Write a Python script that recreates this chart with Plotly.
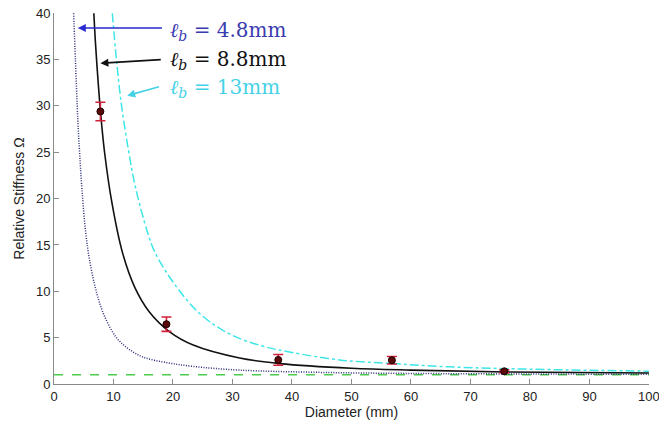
import plotly.graph_objects as go

# Model curves (diameter mm, relative stiffness)
d_48 = [3.3, 3.6, 4.0, 4.3, 4.7, 5.3, 6.0, 7.1, 8.5, 10.5, 12.5, 15.0, 19.0, 23.4, 31.2, 45.0, 60.0, 80.0, 100.0]
o_48 = [40.0, 35.0, 28.5, 25.0, 21.0, 16.5, 13.3, 10.0, 7.3, 5.0, 3.8, 2.9, 2.3, 1.9, 1.5, 1.25, 1.14, 1.08, 1.05]

d_88 = [6.7, 7.0, 7.8, 8.5, 9.75, 11.5, 13.6, 16.0, 19.5, 23.4, 31.2, 38.0, 50.0, 60.0, 76.0, 100.0]
o_88 = [40.0, 36.5, 29.5, 25.0, 19.5, 14.2, 10.4, 7.8, 5.6, 4.2, 2.8, 2.2, 1.7, 1.5, 1.3, 1.18]

d_13 = [9.8, 10.5, 11.3, 12.5, 13.7, 15.8, 16.9, 20.0, 24.5, 29.5, 35.0, 40.0, 48.0, 57.0, 66.5, 80.0, 100.0]
o_13 = [40.0, 35.0, 30.3, 25.3, 21.2, 16.2, 14.3, 11.0, 7.6, 5.4, 4.1, 3.4, 2.6, 2.2, 1.85, 1.6, 1.38]

# Reference (rigid) level
ref_x = [0, 100]
ref_y = [1.0, 1.0]

# Measurements
meas_d = [7.8, 18.9, 37.7, 56.8, 75.7]
meas_o = [29.4, 6.45, 2.6, 2.56, 1.37]
meas_err = [1.0, 0.77, 0.58, 0.4, 0.15]

labels = ["4.8mm", "8.8mm", "13mm"]

fig = go.Figure()
fig.add_trace(go.Scatter(x=ref_x, y=ref_y, mode="lines",
                         line=dict(color="#4ccc4c", width=1.5, dash="dash"),
                         hoverinfo="skip"))
fig.add_trace(go.Scatter(x=d_48, y=o_48, mode="lines", line_shape="spline",
                         line=dict(color="#2a2a78", width=1.5, dash="1px,1.5px")))
fig.add_trace(go.Scatter(x=d_13, y=o_13, mode="lines", line_shape="spline",
                         line=dict(color="#3ee6e6", width=1.5, dash="dashdot")))
fig.add_trace(go.Scatter(x=d_88, y=o_88, mode="lines", line_shape="spline",
                         line=dict(color="#111111", width=1.6)))
fig.add_trace(go.Scatter(x=meas_d, y=meas_o, mode="markers",
                         marker=dict(color="#5a0a0a", size=7,
                                     line=dict(color="#1a0000", width=1)),
                         error_y=dict(type="data", array=meas_err, visible=True,
                                      color="#d0203a", thickness=1.6, width=5)))

ann_font = "DejaVu Serif"
ann = [
    (labels[0], "#3b3bb0", "#2a2ad0", 38.1, 4.0, 38.4, 18.4, 38.4),
    (labels[1], "#111111", "#111111", 35.0, 7.8, 34.6, 18.2, 35.0),
    (labels[2], "#45d2e6", "#45d2e6", 31.9, 12.3, 31.1, 17.9, 32.1),
]
for lab, tcol, acol, ty, axx, axy, tailx, taily in ann:
    fig.add_annotation(x=19.1, y=ty, xref="x", yref="y", xanchor="left", yanchor="middle",
                       text=f"<i>ℓ</i><sub><i>b</i></sub> = {lab}", showarrow=False,
                       font=dict(family=ann_font, size=20, color=tcol))
    fig.add_annotation(x=axx, y=axy, ax=tailx, ay=taily, xref="x", yref="y",
                       axref="x", ayref="y", text="", showarrow=True,
                       arrowhead=2, arrowsize=1, arrowwidth=1.6, arrowcolor=acol)

lab_font = dict(family="Liberation Sans", size=14, color="#222222")
axis_common = dict(showgrid=False, zeroline=False, showline=True, linecolor="#8a8a8a",
                   linewidth=1, ticks="inside", ticklen=5, tickcolor="#8a8a8a",
                   automargin=False, ticklabeloverflow="allow",
                   tickfont=dict(family="Liberation Sans", size=13, color="#222222"))
fig.update_xaxes(range=[0, 100.02], tickvals=[0, 10, 20, 30, 40, 50, 60, 70, 80, 90, 100],
                 title=dict(text="Diameter (mm)", font=lab_font, standoff=4),
                 **axis_common)
fig.update_yaxes(range=[0, 40.02], tickvals=[0, 5, 10, 15, 20, 25, 30, 35, 40],
                 title=dict(text="Relative Stiffness Ω", font=lab_font, standoff=8),
                 **axis_common)
fig.update_layout(width=659, height=425, showlegend=False,
                  margin=dict(l=54, r=10, t=13, b=41, autoexpand=False),
                  plot_bgcolor="white", paper_bgcolor="white")
fig.write_html("out.html", config={"displayModeBar": False},
               post_script="document.body.style.margin='0';document.body.style.overflow='hidden';")
